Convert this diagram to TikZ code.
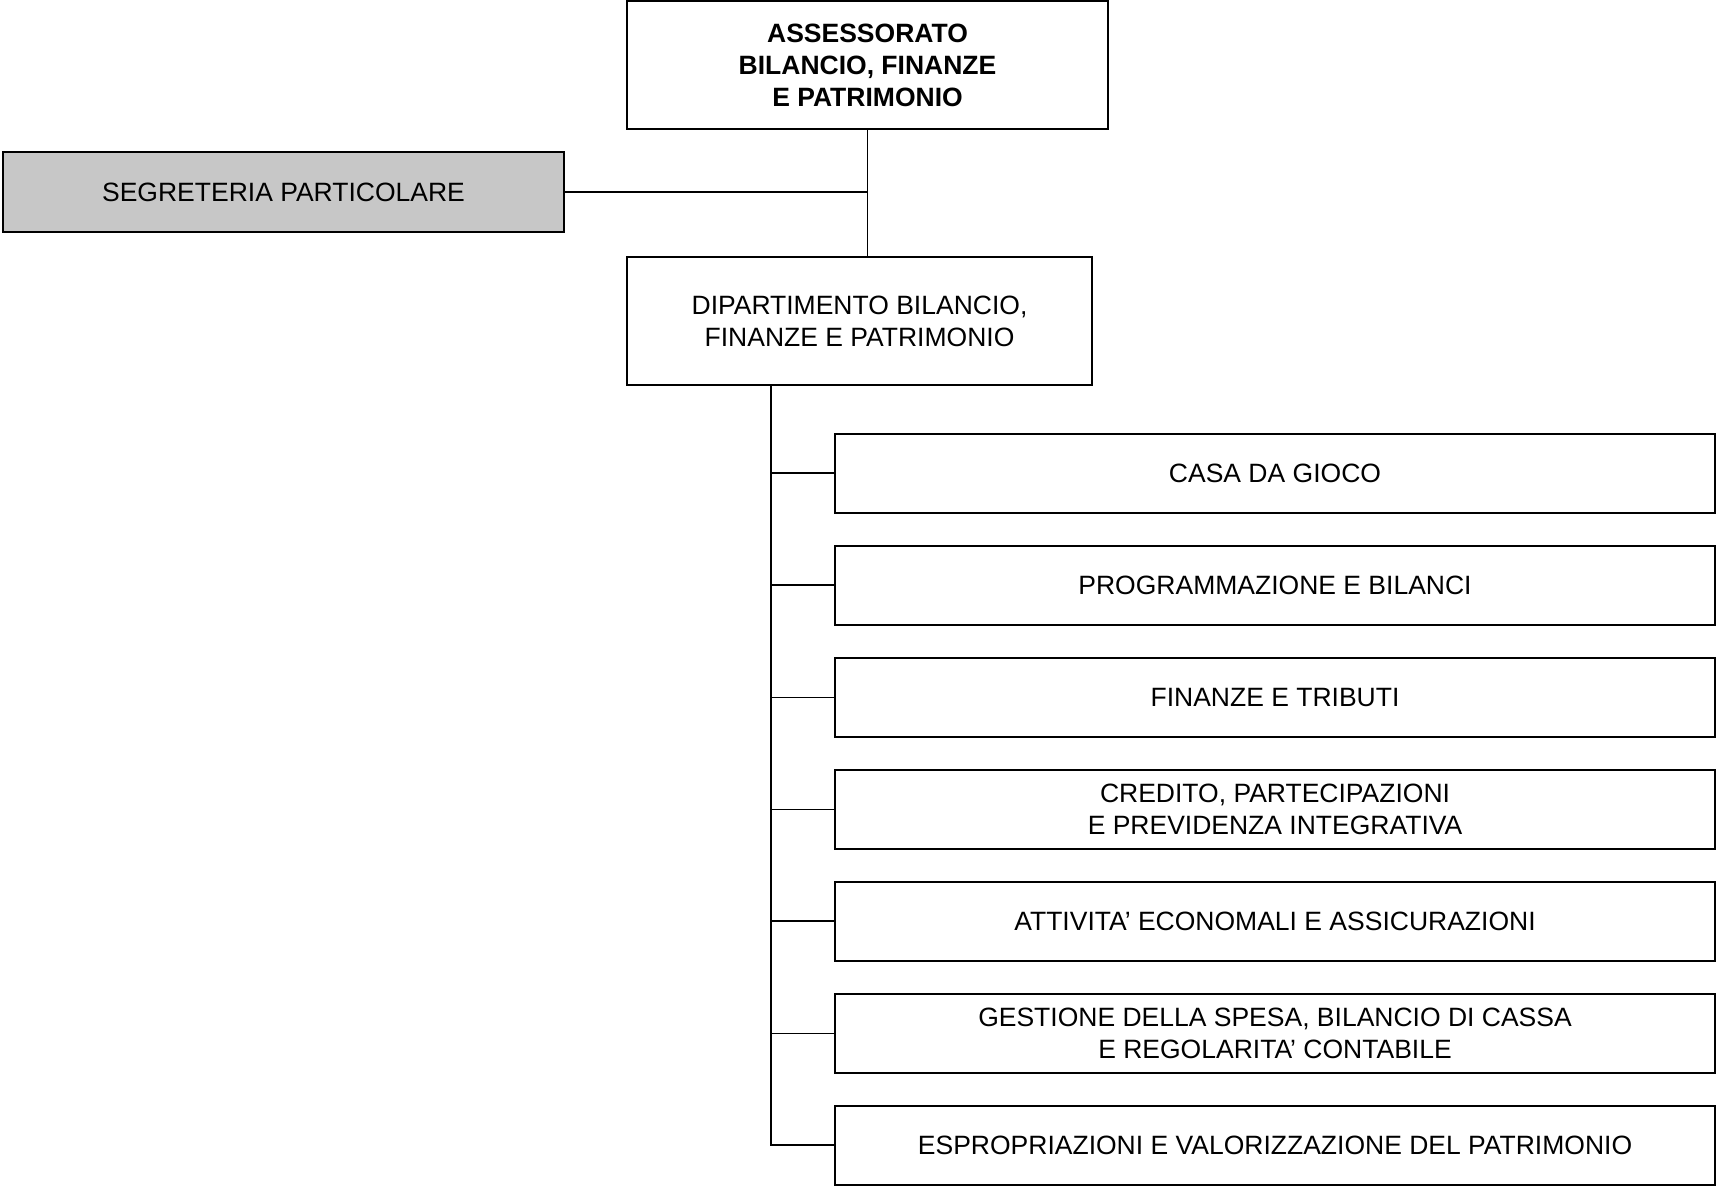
\documentclass[tikz,border=0pt]{standalone}
\usepackage{fontspec}
\setmainfont{Liberation Sans}
\begin{document}
\begin{tikzpicture}[x=1pt,y=-1pt,
  box/.style={draw=black,line width=2pt,inner sep=0pt,align=center,
    font=\fontsize{26.5}{32}\selectfont},
  unit/.style={box,minimum width=880pt,minimum height=79pt},
  conn/.style={line width=1.6pt}]
\useasboundingbox (0,0) rectangle (1717,1186);
\node[box,minimum width=481pt,minimum height=128pt,font=\fontsize{26.5}{32}\selectfont\bfseries] (A) at (867.5,65)
  {ASSESSORATO\\BILANCIO, FINANZE\\E PATRIMONIO};
\node[box,fill=black!22,minimum width=561pt,minimum height=80pt] (S) at (283.5,192) {SEGRETERIA PARTICOLARE};
\node[box,minimum width=465pt,minimum height=128pt] (D) at (859.5,321)
  {DIPARTIMENTO BILANCIO,\\ FINANZE E PATRIMONIO};
\node[unit] (r1) at (1275,473) {CASA DA GIOCO};
\node[unit] (r2) at (1275,585) {PROGRAMMAZIONE E BILANCI};
\node[unit] (r3) at (1275,697.5) {FINANZE E TRIBUTI};
\node[unit] (r4) at (1275,809.5) {CREDITO, PARTECIPAZIONI\\E PREVIDENZA INTEGRATIVA};
\node[unit] (r5) at (1275,921) {ATTIVITA' ECONOMALI E ASSICURAZIONI};
\node[unit] (r6) at (1275,1033.5) {GESTIONE DELLA SPESA, BILANCIO DI CASSA\\E REGOLARITA' CONTABILE};
\node[unit] (r7) at (1275,1145) {ESPROPRIAZIONI E VALORIZZAZIONE DEL PATRIMONIO};
\draw[conn] (A.south) -- (A.south |- D.north);
\draw[conn] (S.east) -- (S.east -| A.south);
\path (D.south west) ++(145,0) coordinate (bx);
\draw[conn] (bx) |- (r7.west);
\foreach \r in {r1,r2,r3,r4,r5,r6} \draw[conn] (bx |- \r.west) -- (\r.west);
\end{tikzpicture}
\end{document}
